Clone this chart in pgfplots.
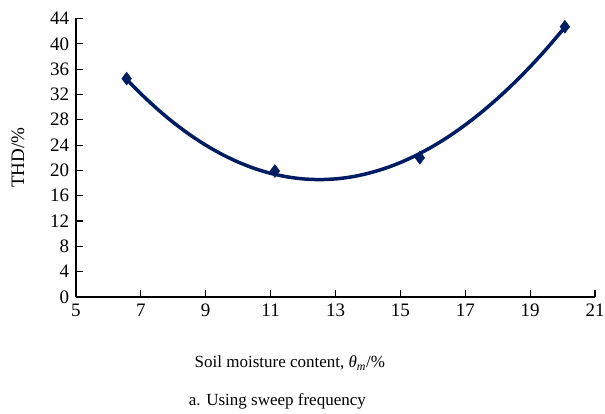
\documentclass[border=0pt]{standalone}
\usepackage{fontspec}
\setmainfont{Liberation Serif}
\usepackage{pgfplots}
\pgfplotsset{compat=1.18}
\definecolor{navy}{RGB}{0,28,98}

\begin{document}
\fontsize{17}{20}\selectfont
\begin{tikzpicture}
% page frame in px (1px = 1pt), axis origin at pixel (76,297)
\useasboundingbox (-76pt,-117pt) rectangle (529pt,297pt);
\begin{axis}[
    scale only axis,
    width=519pt, height=278.5pt,
    xmin=5, xmax=21, ymin=0, ymax=44,
    xtick={5,7,...,21},
    ytick={0,4,...,44},
    axis lines=left,
    axis line style={-, line width=1.2pt, black},
    tick align=inside,
    major tick length=7pt,
    tick style={line width=1.1pt, black},
    /pgf/number format/assume math mode=true,
    ticklabel style={font=\fontsize{19}{22}\selectfont},
    xticklabel style={yshift=-1pt},
    yticklabel style={xshift=-1pt},
    xlabel={Soil moisture content, \textit{θ}\textsubscript{\textit{m}}/\%},
    xlabel style={at={(axis description cs:0.412,-0.237)}, anchor=center},
    ylabel={THD/\%},
    ylabel style={at={(axis description cs:-0.112,0.5)}, anchor=center,
        font=\fontsize{19}{22}\selectfont},
    clip=false,
]
% trend curve
\addplot[navy, line width=3.5pt, smooth] coordinates {
    (6.56,34.4) (7,32.11) (7.5,29.73) (8,27.58) (8.5,25.67) (9,23.99)
    (9.5,22.54) (10,21.31) (10.5,20.31) (11,19.54) (11.5,18.99) (12,18.66)
    (12.5,18.55) (13,18.66) (13.5,18.98) (14,19.53) (14.5,20.28) (15,21.24)
    (15.5,22.42) (16,23.80) (16.5,25.39) (17,27.19) (17.5,29.19) (18,31.39)
    (18.5,33.79) (19,36.38) (19.5,39.18) (20.07,42.6)
};
% measured points
\addplot[only marks, mark=diamond*, mark size=6.5pt, navy] coordinates {
    (6.56,34.5) (11.13,19.9) (15.6,22.0) (20.07,42.7)
};
\node at (axis description cs:0.388,-0.376) {a. Using sweep frequency};
\end{axis}
\end{tikzpicture}
\end{document}
